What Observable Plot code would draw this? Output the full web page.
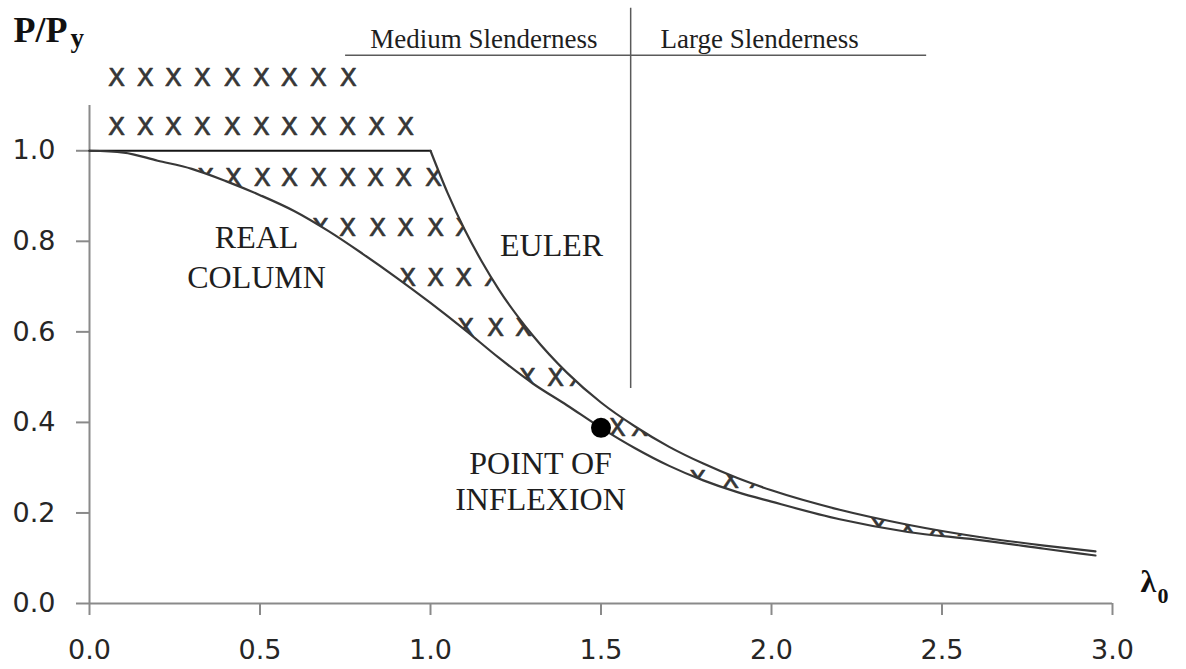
<!DOCTYPE html>
<html>
<head>
<meta charset="utf-8">
<script src="https://cdn.jsdelivr.net/npm/d3@7"></script>
<script src="https://cdn.jsdelivr.net/npm/@observablehq/plot@0.6"></script>
<style>
  html, body { margin: 0; padding: 0; background: #fff; }
  #chart { width: 1186px; height: 669px; }
</style>
</head>
<body>
<div id="chart"></div>
<script>
// Axis ticks
const lambdaTicks = [0, 0.5, 1.0, 1.5, 2.0, 2.5, 3.0];
const loadTicks = [0, 0.2, 0.4, 0.6, 0.8, 1.0];

// Euler load: squash plateau up to λ0 = 1, then the elastic buckling branch
const plateauLambda = [0, 1.0];
const plateauLoad = [1.0, 1.0];
const eulerLambda = [1.0, 1.05, 1.1, 1.15, 1.2, 1.3, 1.4, 1.5, 1.6, 1.7, 1.8, 1.9, 2.0, 2.2, 2.4, 2.6, 2.8, 2.95];
const eulerLoad = [1.0, 0.907, 0.826, 0.756, 0.694, 0.592, 0.510, 0.444, 0.391, 0.346, 0.309, 0.277, 0.250, 0.207, 0.174, 0.148, 0.128, 0.115];

// Real (imperfect) column strength
const realLambda = [0, 0.1, 0.2, 0.3, 0.4, 0.5, 0.6, 0.7, 0.8, 0.9, 1.0, 1.1, 1.2, 1.3, 1.4, 1.5, 1.6, 1.7, 1.8, 1.9, 2.0, 2.2, 2.4, 2.6, 2.8, 2.95];
const realLoad = [1.0, 0.996, 0.978, 0.960, 0.933, 0.902, 0.867, 0.823, 0.773, 0.720, 0.664, 0.605, 0.543, 0.486, 0.438, 0.388, 0.343, 0.304, 0.272, 0.246, 0.225, 0.186, 0.158, 0.141, 0.121, 0.106];

// Point of inflexion on the real column curve
const inflexionLambda = [1.5];
const inflexionLoad = [0.388];

// Hatching crosses: one row per load level
const hatchLoad = [1.161, 1.052, 0.939, 0.829, 0.718, 0.608, 0.497, 0.387, 0.272, 0.166];
const hatchLambda = [
  [0.079, 0.164, 0.246, 0.331, 0.419, 0.504, 0.586, 0.671, 0.759],
  [0.079, 0.164, 0.246, 0.331, 0.419, 0.504, 0.586, 0.671, 0.757, 0.842, 0.927],
  [0.340, 0.422, 0.507, 0.587, 0.672, 0.757, 0.839, 0.921, 1.009],
  [0.677, 0.757, 0.845, 0.927, 1.015, 1.097],
  [0.933, 1.015, 1.097, 1.182],
  [1.103, 1.191, 1.273],
  [1.284, 1.367, 1.431],
  [1.548, 1.613],
  [1.783, 1.880, 1.959],
  [2.314, 2.399, 2.484, 2.569]
];

const plateau = plateauLambda.map((l, i) => ({l, p: plateauLoad[i]}));
const euler = eulerLambda.map((l, i) => ({l, p: eulerLoad[i]}));
const real = realLambda.map((l, i) => ({l, p: realLoad[i]}));
const inflexion = inflexionLambda.map((l, i) => ({l, p: inflexionLoad[i]}));
const hatch = hatchLoad.flatMap((p, i) => hatchLambda[i].map(l => ({l, p, t: "X"})));

const axisGray = "#8a8a8a";
const ink = "#383838";
const serif = "'Liberation Serif', 'Times New Roman', serif";
const sans = "'DejaVu Sans', Verdana, sans-serif";

// Free-standing annotation in data coordinates
function note(t, l, p, opts = {}) {
  return Plot.text([{l, p, t}], {
    x: "l", y: "p", text: "t",
    fontFamily: serif, fontSize: 32, fill: "#1e1e1e",
    ...opts
  });
}

const chart = Plot.plot({
  width: 1186,
  height: 669,
  marginLeft: 89,
  marginRight: 74,
  marginTop: 105,
  marginBottom: 66,
  style: {background: "#fff", fontFamily: sans, overflow: "visible"},
  x: {domain: [0, 3], axis: null},
  y: {domain: [0, 1.1], axis: null},
  marks: [
    // crosses, trimmed to the band between the two curves by white fills
    Plot.text(hatch, {x: "l", y: "p", text: "t", fontFamily: sans, fontSize: 25,
      fill: "#363636", stroke: "#363636", strokeWidth: 0.7}),
    Plot.areaY(real, {x: "l", y1: 0, y2: "p", fill: "white", curve: "monotone-x"}),
    Plot.areaY(euler, {x: "l", y1: "p", y2: 1, fill: "white", curve: "monotone-x"}),

    // axes
    Plot.ruleY([0], {x1: 0, x2: 3, stroke: axisGray, strokeWidth: 2}),
    Plot.ruleX([0], {y1: 0, y2: 1.1, stroke: axisGray, strokeWidth: 2}),
    Plot.axisX({ticks: lambdaTicks, tickFormat: d3.format(".1f"), tickSize: 12, tickPadding: 24,
      fontSize: 27, fontFamily: sans, stroke: axisGray, strokeWidth: 2, fill: "#262626", label: null}),
    Plot.axisY({ticks: loadTicks, tickFormat: d3.format(".1f"), tickSize: 13, tickPadding: 21,
      fontSize: 27, fontFamily: sans, stroke: axisGray, strokeWidth: 2, fill: "#262626", label: null}),

    // slenderness ranges
    Plot.ruleX([1.587], {y1: 0.475, y2: 1.315, stroke: "#5a5a5a", strokeWidth: 1.5}),
    Plot.ruleY([1.211], {x1: 0.751, x2: 2.455, stroke: "#5a5a5a", strokeWidth: 1.5}),
    note("Medium Slenderness", 1.49, 1.2265, {fontSize: 27, textAnchor: "end", lineAnchor: "bottom"}),
    note("Large Slenderness", 1.6745, 1.2265, {fontSize: 27, textAnchor: "start", lineAnchor: "bottom"}),

    // curves
    Plot.line(plateau, {x: "l", y: "p", stroke: "#151515", strokeWidth: 2.2}),
    Plot.line(euler, {x: "l", y: "p", stroke: ink, strokeWidth: 2.2, curve: "monotone-x"}),
    Plot.line(real, {x: "l", y: "p", stroke: ink, strokeWidth: 2.2, curve: "monotone-x"}),
    Plot.dot(inflexion, {x: "l", y: "p", r: 10, fill: "#000", stroke: null}),

    // curve labels
    note("REAL\nCOLUMN", 0.49, 0.696, {lineAnchor: "bottom", lineHeight: 1.25}),
    note("EULER", 1.355, 0.767, {lineAnchor: "bottom"}),
    note("POINT OF\nINFLEXION", 1.3226, 0.2055, {lineAnchor: "bottom", lineHeight: 1.125}),

    // axis titles
    note("P/P", -0.2229, 1.2398, {fontSize: 36, fontWeight: "bold", textAnchor: "start", lineAnchor: "bottom", fill: "#111"}),
    note("y", -0.056, 1.229, {fontSize: 27, fontWeight: "bold", textAnchor: "start", lineAnchor: "bottom", fill: "#111"}),
    note("λ", 3.082, 0.0243, {fontSize: 32, fontWeight: "bold", textAnchor: "start", lineAnchor: "bottom", fill: "#111"}),
    note("0", 3.132, 0.0022, {fontSize: 22, fontWeight: "bold", textAnchor: "start", lineAnchor: "bottom", fill: "#111"})
  ]
});

document.getElementById("chart").appendChild(chart);
</script>
</body>
</html>
